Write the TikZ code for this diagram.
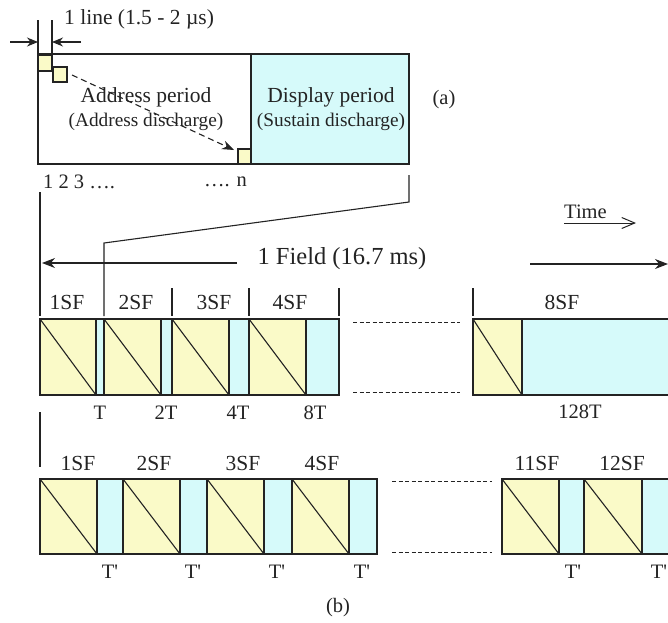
\documentclass[tikz,border=0pt]{standalone}
\usepackage{fontspec}
\setmainfont{Liberation Serif}
\usetikzlibrary{arrows.meta}
\definecolor{ylw}{RGB}{250,250,200}
\definecolor{cyn}{RGB}{214,250,250}
\definecolor{lnc}{RGB}{35,35,35}
\newcommand{\subfr}[5]{%
  \path[ycell] (#1,#4) rectangle (#2,#5);
  \path[ccell] (#2,#4) rectangle (#3,#5);
  \draw[thin line] (#1,#4) -- (#2,#5);}
\newcommand{\tpr}{T\textquotesingle}
\begin{document}
\begin{tikzpicture}[x=1pt,y=-1pt,
  lbl/.style={inner sep=0pt, text=lnc, font=\fontsize{21.5}{24}\selectfont},
  sm/.style={inner sep=0pt, text=lnc, font=\fontsize{19.3}{22}\selectfont},
  tl/.style={inner sep=0pt, text=lnc, font=\fontsize{20.5}{23}\selectfont},
  big/.style={inner sep=0pt, text=lnc, font=\fontsize{24.5}{27}\selectfont},
  ycell/.style={fill=ylw, draw=lnc, line width=1.3pt},
  ccell/.style={fill=cyn, draw=lnc, line width=1.3pt},
  thin line/.style={draw=lnc, line width=1.1pt},
  gapdash/.style={draw=lnc, line width=0.8pt, dash pattern=on 4pt off 2.5pt},
  ]
\useasboundingbox (0,0) rectangle (668,622);

% ---------- (a) ----------
\path[fill=white, draw=lnc, line width=1.3pt] (38,54) rectangle (251,164);
\path[ccell] (251,54) rectangle (409,164);
\path[ycell, line width=1.1pt] (38,55) rectangle (52,71);
\path[ycell, line width=1.1pt] (53,67) rectangle (67,82);
\path[ycell, line width=1.1pt] (238,149) rectangle (251,164);

\node[lbl] (ap) at (146,97) {Address period};
\node[sm] (ad) at (146,122) {(Address discharge)};
\node[lbl] (dp) at (331,97) {Display period};
\node[sm] (sd) at (331,122) {(Sustain discharge)};
\node[tl] (a) at (444,100) {(a)};

\coordinate (ds) at (72,75);
\coordinate (de) at (234,150);
\draw[thin line, dash pattern=on 6pt off 4pt, -{Stealth[length=12pt,width=9pt]}] (ds) -- (de);

% 1 line marker
\coordinate (l1t) at (38,20); \coordinate (l1b) at (38,55);
\coordinate (l2t) at (52,20); \coordinate (l2b) at (52,55);
\draw[thin line] (l1t) -- (l1b);
\draw[thin line] (l2t) -- (l2b);
\coordinate (la) at (10,42); \coordinate (lat) at (38,42);
\coordinate (ra) at (81,42); \coordinate (rat) at (52,42);
\draw[thin line, -{Stealth[length=11pt,width=9pt]}] (la) -- (lat);
\draw[thin line, -{Stealth[length=11pt,width=9pt]}] (ra) -- (rat);
\node[lbl, anchor=west] (line) at (64,19) {1 line (1.5 - 2 µs)};

\node[tl, anchor=west] (n123) at (43,182) {1 2 3 ….};
\node[tl, anchor=east] (nn) at (247,182) {…. n};

% zoom connector
\coordinate (z1) at (409,175);
\coordinate (z2) at (409,202);
\coordinate (z3) at (104,243);
\coordinate (z4) at (104,316);
\draw[thin line] (z1) -- (z2) -- (z3) -- (z4);
\coordinate (v1) at (40,192);
\coordinate (v2) at (40,316);
\draw[thin line] (v1) -- (v2);

% time arrow
\node[tl, anchor=west] (time) at (564,212) {Time};
\coordinate (t1) at (564,223); \coordinate (t2) at (636,223);
\draw[thin line, line width=1pt, -{Straight Barb[length=13pt,width=11pt]}] (t1) -- (t2);

% field arrows
\node[big] (field) at (342,259) {1 Field (16.7 ms)};
\coordinate (f1) at (237,263); \coordinate (f1t) at (42,263);
\coordinate (f2) at (530,264); \coordinate (f2t) at (668,264);
\draw[thin line, -{Stealth[length=13pt,width=10pt]}] (f1) -- (f1t);
\draw[thin line, -{Stealth[length=13pt,width=10pt]}] (f2) -- (f2t);

% ---------- (b) row 1 ----------
\foreach \x in {172,249,339,473}{\draw[thin line] (\x,288) -- (\x,316);}
\node[lbl] (s1) at (67,302) {1SF};
\node[lbl] (s2) at (136,302) {2SF};
\node[lbl] (s3) at (214,302) {3SF};
\node[lbl] (s4) at (290,302) {4SF};
\node[lbl] (s8) at (562,302) {8SF};

\subfr{40}{96}{104}{319}{395}
\subfr{104}{161}{172}{319}{395}
\subfr{172}{229}{249}{319}{395}
\subfr{249}{306}{339}{319}{395}
\subfr{473}{522}{670}{319}{395}

\draw[gapdash] (353,322) -- (460,322);
\draw[gapdash] (353,392) -- (460,392);

\node[tl] (tA) at (100,413) {T};
\node[tl] (tB) at (166,413) {2T};
\node[tl] (tC) at (238,413) {4T};
\node[tl] (tD) at (315,413) {8T};
\node[tl] (tE) at (580,412) {128T};

% ---------- (b) row 2 ----------
\coordinate (w1) at (40,412); \coordinate (w2) at (40,467);
\draw[thin line] (w1) -- (w2);
\node[lbl] (r1) at (78,463) {1SF};
\node[lbl] (r2) at (154,463) {2SF};
\node[lbl] (r3) at (243,463) {3SF};
\node[lbl] (r4) at (322,463) {4SF};
\node[lbl] (r11) at (537,463) {11SF};
\node[lbl] (r12) at (622,463) {12SF};

\subfr{40}{97}{123}{479}{554}
\subfr{123}{180}{207}{479}{554}
\subfr{207}{264}{292}{479}{554}
\subfr{292}{349}{377}{479}{554}
\subfr{502}{559}{584}{479}{554}
\subfr{584}{642}{670}{479}{554}

\draw[gapdash] (392,481) -- (492,481);
\draw[gapdash] (392,552) -- (492,552);

\node[tl] (p1) at (110,572) {\tpr};
\node[tl] (p2) at (193,572) {\tpr};
\node[tl] (p3) at (277,572) {\tpr};
\node[tl] (p4) at (362,572) {\tpr};
\node[tl] (p5) at (573,572) {\tpr};
\node[tl] (p6) at (659,572) {\tpr};

\node[tl] (b) at (338,608) {(b)};
\end{tikzpicture}
\end{document}
